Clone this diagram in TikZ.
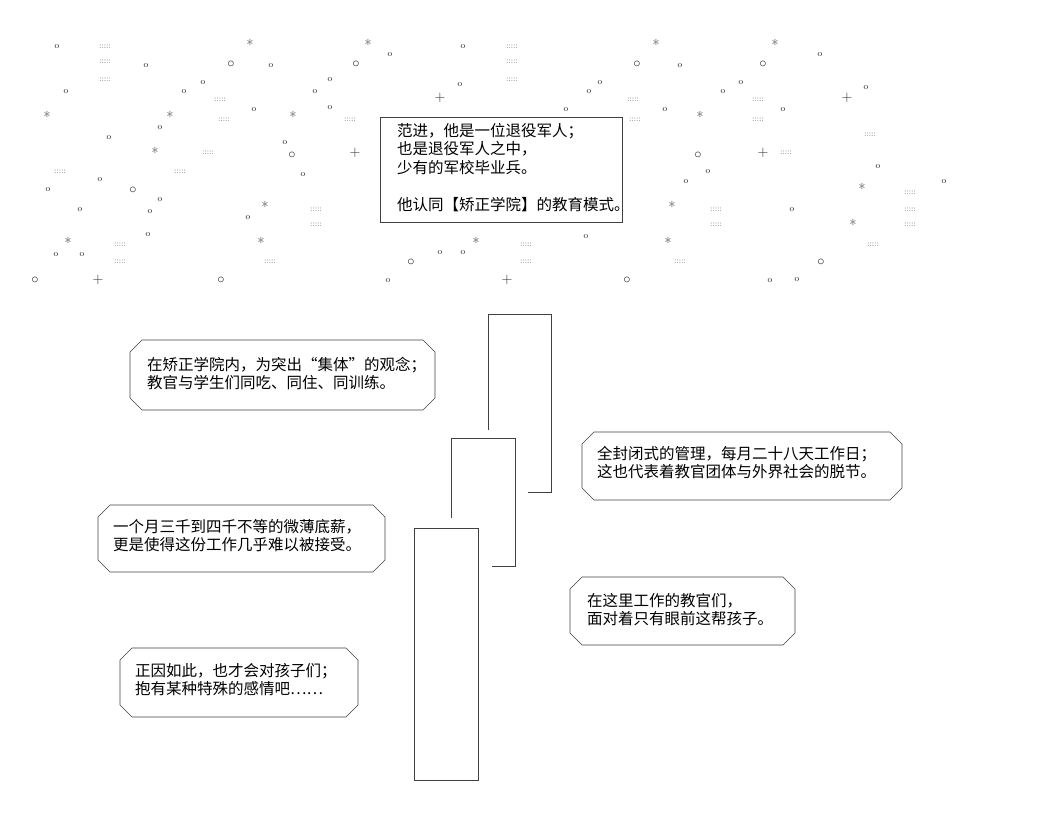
\documentclass[tikz,border=0pt]{standalone}
\usepackage{fontspec}
\newfontfamily\cjk{Noto Sans CJK SC}
\usepackage{tikz}

\tikzset{
  txt/.style={anchor=north west,align=left,font=\cjk\fontsize{15.5}{18.5}\selectfont,inner sep=0pt},
  aa/.style={draw=black!75,line width=0.6pt},
  sky/.style={font=\fontsize{15}{15}\selectfont,inner sep=0pt,text=black!85}
}
\newcommand{\bubble}[4]{% x1 y1 x2 y2, corners cut
  \draw[aa] (#1+12,#2) -- (#3-12,#2) -- (#3,#2+12) -- (#3,#4-12) -- (#3-12,#4)
    -- (#1+12,#4) -- (#1,#4-12) -- (#1,#2+12) -- cycle;}

\begin{document}
\begin{tikzpicture}[x=1pt,y=-1pt]
  \useasboundingbox (0,0) rectangle (1044,820);

  % sky
  \foreach \x/\y in {250/45,368/45,656/45,775/45,47/117,170/117,293/117,700/117,
      155/153,265/207,672/207,853/225,68/243,261/243,668/243,862/189,476/243}
    \node[sky] at (\x,\y) {*};
  \foreach \x/\y in {231/64,356/64,637/64,763/64,292/155,698/155,133/190,35/280,
      221/280,411/262,627/280,821/262}
    \node[sky] at (\x,\y) {$\circ$};
  \foreach \x/\y in {57/47,146/66,271/66,463/47,390/55,680/66,820/55,66/92,184/92,
      203/83,315/92,330/80,460/85,589/92,600/83,723/92,741/83,866/88,254/110,
      160/128,109/138,330/108,566/110,665/110,783/110,48/190,80/210,100/180,
      303/175,285/143,82/255,56/255,148/235,248/218,440/253,463/253,
      686/182,708/172,792/210,878/167,944/182,160/200,586/237,388/281,770/281,
      797/280,150/212}
    \node[sky,font=\fontsize{9}{9}\selectfont] at (\x,\y) {o};
  \foreach \x/\y in {98/280,440/98,847/98,355/153,763/153,507/280}
    \node[sky] at (\x,\y) {+};
  \foreach \x/\y in {105/47,105/62,105/80,512/47,512/62,512/80,224/120,350/120,
      316/210,316/225,120/245,120/262,716/210,716/225,910/193,910/210,910/225,
      208/153,786/153,758/120,870/135,526/245,526/262,873/245,
      270/262,680/262,180/172,60/172,635/120,220/100,633/100,758/100}
    \node[sky,font=\fontsize{8}{8}\selectfont] at (\x,\y) {:::::};

  % top box
  \draw[aa] (380,117) -- (622,117) -- (622,222) -- (380,222) -- cycle;
  \node[txt] (intro) at (397,123) {范进，他是一位退役军人；\\也是退役军人之中，\\少有的军校毕业兵。\\[18.5pt]他认同【矫正学院】的教育模式。};

  % pillars
  \draw[aa] (488,430) -- (488,314) -- (551,314) -- (551,492) -- (528,492);
  \draw[aa] (451,518) -- (451,438) -- (515,438) -- (515,566) -- (492,566);
  \draw[aa] (414,528) rectangle (478,780);

  % speech boxes
  \bubble{130}{340}{435}{410}
  \node[txt] (jiti) at (147,357) {在矫正学院内，为突出“集体”的观念；\\教官与学生们同吃、同住、同训练。};
  \bubble{582}{432}{902}{500}
  \node[txt] (fengbi) at (597,446) {全封闭式的管理，每月二十八天工作日；\\这也代表着教官团体与外界社会的脱节。};
  \bubble{98}{505}{385}{572}
  \node[txt] (dixin) at (113,519) {一个月三千到四千不等的微薄底薪，\\更是使得这份工作几乎难以被接受。};
  \bubble{570}{577}{795}{645}
  \node[txt] (jiaoguan) at (587,593) {在这里工作的教官们，\\面对着只有眼前这帮孩子。};
  \bubble{120}{648}{358}{717}
  \node[txt] (ganqing) at (135,663) {正因如此，也才会对孩子们；\\抱有某种特殊的感情吧……};
\end{tikzpicture}
\end{document}
